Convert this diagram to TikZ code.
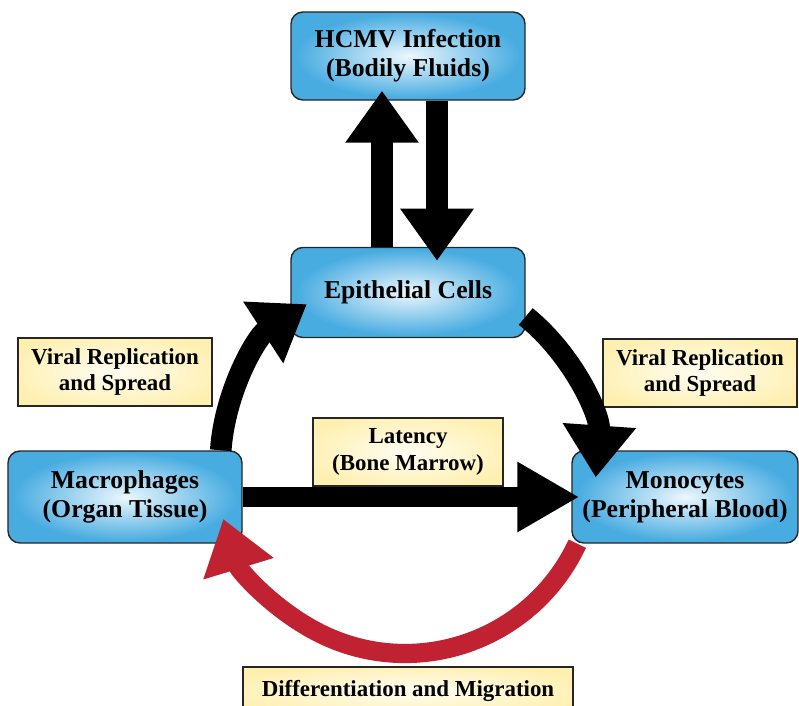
\documentclass[tikz,border=0pt]{standalone}
\usepackage{fontspec}
\setmainfont{Liberation Serif}
\usetikzlibrary{arrows.meta,positioning}

\definecolor{cellblue}{RGB}{72,172,225}
\definecolor{cellglow}{RGB}{236,247,253}
\definecolor{noteyellow}{RGB}{255,240,178}
\definecolor{noteglow}{RGB}{255,253,242}
\definecolor{bloodred}{RGB}{192,34,50}
\pgfdeclareradialshading{cellshade}{\pgfpoint{0bp}{0bp}}{color(0bp)=(cellglow); color(24bp)=(cellblue); color(50bp)=(cellblue)}
\pgfdeclareradialshading{noteshade}{\pgfpoint{0bp}{0bp}}{color(0bp)=(noteglow); color(28bp)=(noteyellow); color(50bp)=(noteyellow)}

\begin{document}
\begin{tikzpicture}[x=0.025cm, y=0.025cm,
        cell/.style={draw=black!85, line width=1pt, shading=cellshade, rounded corners=0.3cm, minimum width=5.85cm, minimum height=2.25cm, align=center, inner sep=1pt, font=\fontsize{18.3}{20.6}\selectfont\bfseries},
        note/.style={draw=black!85, line width=1pt, shading=noteshade, minimum width=4.85cm, minimum height=1.7cm, align=center, inner sep=1pt, font=\fontsize{16.3}{19}\selectfont\bfseries},
        fatarrow/.style={-{Triangle[length=1.3cm,width=1.75cm]}, line width=0.54cm, draw=black},
        redarrow/.style={-{Triangle[length=1.3cm,width=1.75cm]}, line width=0.48cm, draw=bloodred}
    ]
    \useasboundingbox (0,0) rectangle (799,-705);
    \node[cell, minimum height=2.2cm] (hcmv) at (408,-56) {HCMV Infection\\(Bodily Fluids)};
    \node[cell, below=3.65cm of hcmv] (epi) {Epithelial Cells};
    \node[cell, minimum height=2.3cm] (mac) at (125,-497) {Macrophages\\(Organ Tissue)};
    \node[cell, minimum height=2.3cm, minimum width=5.65cm] (mono) at (685,-497) {Monocytes\\(Peripheral Blood)};
    \node[note] (spreadl) at (115,-372) {Viral Replication\\and Spread};
    \node[note] (spreadr) at (700,-373) {Viral Replication\\and Spread};
    \node[note, minimum width=4.75cm] (latency) at (408,-452) {Latency\\(Bone Marrow)};
    \node[note, minimum width=8.25cm, minimum height=1.2cm] (migr) at (408,-691) {Differentiation and Migration};
    \draw[fatarrow] ([xshift=-0.65cm]epi.north) -- ([xshift=-0.65cm,yshift=0.25cm]hcmv.south);
    \draw[fatarrow] ([xshift=0.725cm]hcmv.south) -- ([xshift=0.725cm,yshift=-0.35cm]epi.north);
    \draw[fatarrow] ([xshift=-0.55cm]mac.north east) arc[start angle=176, end angle=123, radius=4.75cm];
    \draw[fatarrow] ([yshift=-0.6cm]epi.east) arc[start angle=51, end angle=-4, radius=4.75cm];
    \draw[fatarrow, line width=0.5cm, -{Triangle[length=1.55cm,width=1.65cm]}] (mac.east) -- ([xshift=0.2cm]mono.west);
    \draw[redarrow] ([xshift=0.15cm]mono.south west) arc[start angle=-25, end angle=-163, radius=4.75cm];
\end{tikzpicture}
\end{document}
